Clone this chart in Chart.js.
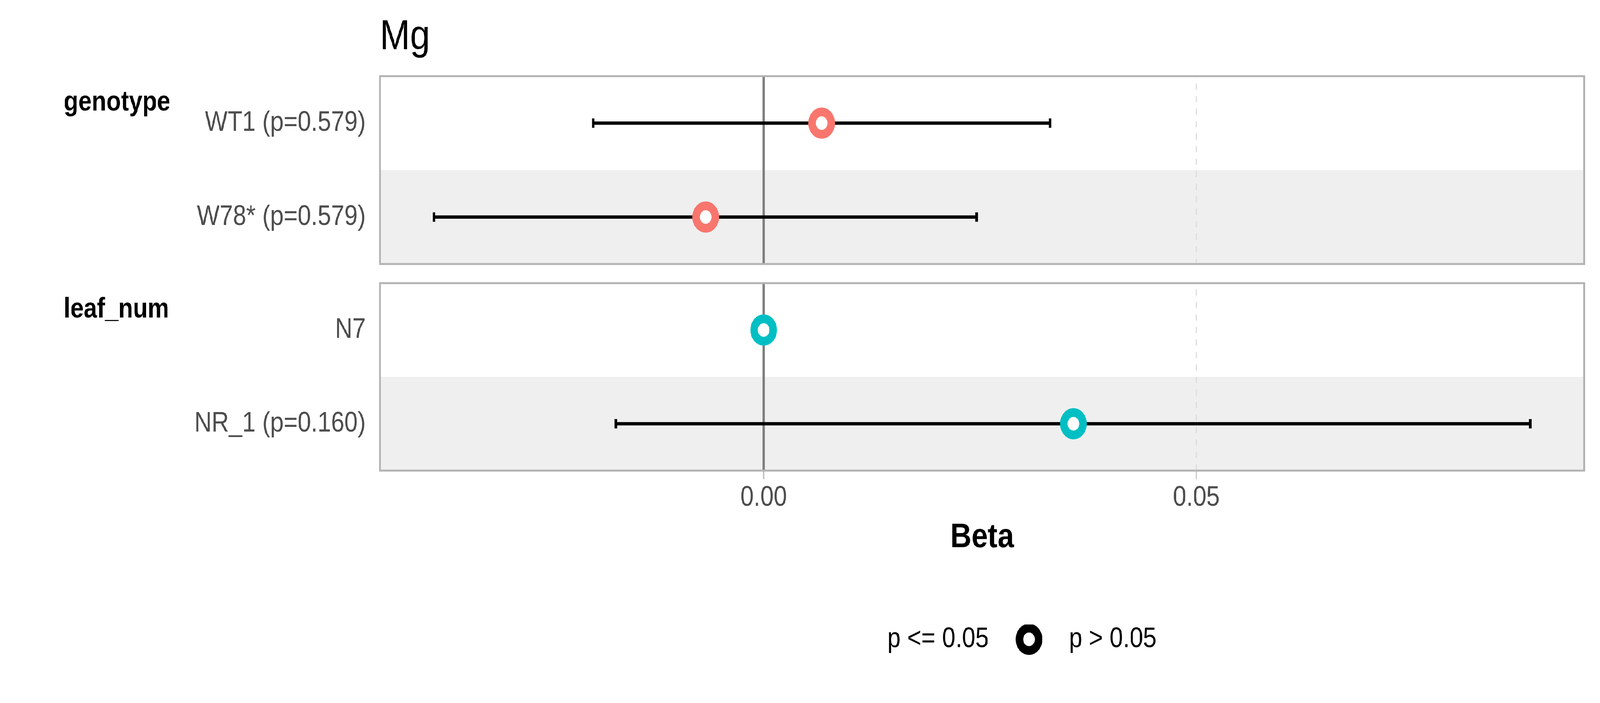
<!DOCTYPE html>
<html>
<head>
<meta charset="utf-8">
<title>Mg</title>
<script src="https://cdn.jsdelivr.net/npm/chart.js@4.4.1/dist/chart.umd.min.js"></script>
<style>
  html, body { margin: 0; padding: 0; background: #fff; overflow: hidden; }
  #stage { position: absolute; left: 0; top: 0; width: 4800px; height: 1800px; transform-origin: 0 0; }
  canvas { position: absolute; left: 0; }
  #topPanel { top: 0; }
  #bottomPanel { top: 700px; }
</style>
</head>
<body>
<div id="stage">
  <canvas id="topPanel" width="4800" height="700"></canvas>
  <canvas id="bottomPanel" width="4800" height="1100"></canvas>
</div>
<script>
// values
const xTickValues = [0, 0.05];
const xTickLabels = ['0.00', '0.05'];

const genotypeTerms = ['WT1 (p=0.579)', 'W78* (p=0.579)'];
const genotypeBeta = [0.0067, -0.0067];
const genotypeLow = [-0.0197, -0.0381];
const genotypeHigh = [0.0331, 0.0246];

const leafTerms = ['N7', 'NR_1 (p=0.160)'];
const leafBeta = [0, 0.0358];
const leafLow = [null, -0.0171];
const leafHigh = [null, 0.0886];

const legendLabels = ['p <= 0.05', 'p > 0.05'];

const xMin = -0.04434;
const xMax = 0.09482;

const FONT = '"Liberation Sans", Arial, sans-serif';

// the layout is built for 4800x1800, fit it to whatever window we get
document.getElementById('stage').style.transform =
    'scale(' + (window.innerWidth / 4800) + ',' + (window.innerHeight / 1800) + ')';

Chart.defaults.font.family = FONT;
Chart.defaults.color = '#000';

// stripes, zero line, panel frame and strip label
const panelDecor = {
    id: 'panelDecor',
    beforeDraw(chart) {
        const {ctx, chartArea: a, scales: {y}} = chart;
        const n = chart.data.labels.length;
        const band = (a.bottom - a.top) / n;
        ctx.save();
        ctx.fillStyle = '#efefef';
        chart.data.labels.forEach((lab, i) => {
            if (i % 2 === 1) {
                const yc = y.getPixelForValue(i);
                ctx.fillRect(a.left, yc - band / 2, a.right - a.left, band);
            }
        });
        ctx.restore();
    },
    beforeDatasetsDraw(chart) {
        const {ctx, chartArea: a, scales: {x}} = chart;
        const x0 = x.getPixelForValue(0);
        ctx.save();
        ctx.strokeStyle = '#7f7f7f';
        ctx.lineWidth = 8;
        ctx.beginPath();
        ctx.moveTo(x0, a.top);
        ctx.lineTo(x0, a.bottom);
        ctx.stroke();
        ctx.restore();
    },
    afterDraw(chart, args, opts) {
        const {ctx, chartArea: a} = chart;
        ctx.save();
        ctx.strokeStyle = '#b3b3b3';
        ctx.lineWidth = 5;
        ctx.strokeRect(a.left, a.top, a.right - a.left, a.bottom - a.top);
        ctx.fillStyle = '#000';
        ctx.font = 'bold 72px ' + FONT;
        ctx.textAlign = 'left';
        ctx.textBaseline = 'alphabetic';
        ctx.fillText(opts.strip, 191, a.top + 88);
        ctx.restore();
    }
};

// legend key: ring drawn a bit right of the key centre, like the ggplot legend
function ringImage(r, w, shift, color) {
    const c = document.createElement('canvas');
    const half = r + w / 2 + 2;
    c.width = Math.ceil(2 * (half + shift));
    c.height = Math.ceil(2 * half);
    const g = c.getContext('2d');
    g.beginPath();
    g.arc(c.width / 2 + shift, c.height / 2, r, 0, Math.PI * 2);
    g.fillStyle = '#fff';
    g.fill();
    g.lineWidth = w;
    g.strokeStyle = color;
    g.stroke();
    return c;
}

function buildPanel(canvasId, terms, beta, low, high, color, strip, isBottom) {
    const ctx = document.getElementById(canvasId);

    const ciData = low.map((l, i) => (l === null ? null : [l, high[i]]));
    const capData = terms.flatMap((t, i) => (low[i] === null ? [] :
        [{x: low[i], y: t}, {x: high[i], y: t}]));
    const pointData = terms.map((t, i) => ({x: beta[i], y: t}));

    return new Chart(ctx, {
        type: 'bar',
        data: {
            labels: terms,
            datasets: [
                {
                    type: 'bar',
                    indexAxis: 'y',
                    data: ciData,
                    backgroundColor: '#000',
                    borderWidth: 0,
                    barThickness: 8,
                    order: 3
                },
                {
                    type: 'scatter',
                    data: capData,
                    pointStyle: 'line',
                    pointRotation: 90,
                    pointRadius: 12,
                    pointBorderWidth: 8,
                    pointBorderColor: '#000',
                    order: 2
                },
                {
                    type: 'scatter',
                    data: pointData,
                    pointStyle: 'circle',
                    pointRadius: 28.75,
                    pointBorderWidth: 22.5,
                    pointBorderColor: color,
                    pointBackgroundColor: '#fff',
                    order: 1
                }
            ]
        },
        options: {
            indexAxis: 'y',
            responsive: false,
            devicePixelRatio: 1,
            animation: false,
            events: [],
            layout: {
                autoPadding: false,
                padding: isBottom
                    ? {left: 0, right: 47.5, top: 25, bottom: 117}
                    : {left: 0, right: 47.5, top: 0, bottom: 24}
            },
            scales: {
                x: {
                    type: 'linear',
                    min: xMin,
                    max: xMax,
                    offset: false,
                    afterBuildTicks: sc => { sc.ticks = xTickValues.map(v => ({value: v})); },
                    ticks: {
                        display: isBottom,
                        padding: 5,
                        color: '#4d4d4d',
                        font: {size: 72},
                        maxRotation: 0,
                        autoSkip: false,
                        callback: (v, i) => xTickLabels[i]
                    },
                    grid: {
                        drawTicks: isBottom,
                        tickLength: 22,
                        tickWidth: 3,
                        tickColor: '#b3b3b3',
                        lineWidth: 4,
                        color: c => (c.tick && c.tick.value !== 0) ? '#dedede' : 'rgba(0,0,0,0)'
                    },
                    border: {display: false, dash: [16, 16], dashOffset: isBottom ? 16 : 13},
                    title: {
                        display: isBottom,
                        text: 'Beta',
                        color: '#000',
                        font: {size: 88, weight: 'bold'},
                        padding: {top: 1, bottom: 169}
                    }
                },
                y: {
                    type: 'category',
                    offset: true,
                    grid: {display: false, drawTicks: false},
                    border: {display: false},
                    ticks: {padding: 43, color: '#4d4d4d', font: {size: 72}, autoSkip: false},
                    afterFit: sc => {
                        sc.width = 1140;
                        // labels sit well inside the panel, no extra room needed above/below
                        sc.paddingTop = 0;
                        sc.paddingBottom = 0;
                    }
                }
            },
            plugins: {
                tooltip: {enabled: false},
                panelDecor: {strip: strip},
                title: {
                    display: !isBottom,
                    fullSize: false,
                    text: 'Mg',
                    align: 'start',
                    color: '#000',
                    font: {size: 108, weight: 'normal'},
                    padding: {top: 31, bottom: 34.4}
                },
                legend: {
                    display: isBottom,
                    fullSize: false,
                    position: 'bottom',
                    align: 'center',
                    labels: {
                        usePointStyle: true,
                        pointStyleWidth: 202.7,
                        padding: 2,
                        font: {size: 72},
                        color: '#000',
                        generateLabels: () => legendLabels.map((text, i) => ({
                            text: text,
                            fontColor: '#000',
                            hidden: false,
                            lineWidth: 0,
                            fillStyle: 'rgba(0,0,0,0)',
                            strokeStyle: 'rgba(0,0,0,0)',
                            pointStyle: i === 0 ? 'circle' : ringImage(28.75, 22.5, 17.4, '#000'),
                            datasetIndex: i
                        }))
                    }
                }
            }
        },
        plugins: [panelDecor]
    });
}

buildPanel('topPanel', genotypeTerms, genotypeBeta, genotypeLow, genotypeHigh, '#f8766d', 'genotype', false);
buildPanel('bottomPanel', leafTerms, leafBeta, leafLow, leafHigh, '#00bfc4', 'leaf_num', true);
</script>
</body>
</html>
